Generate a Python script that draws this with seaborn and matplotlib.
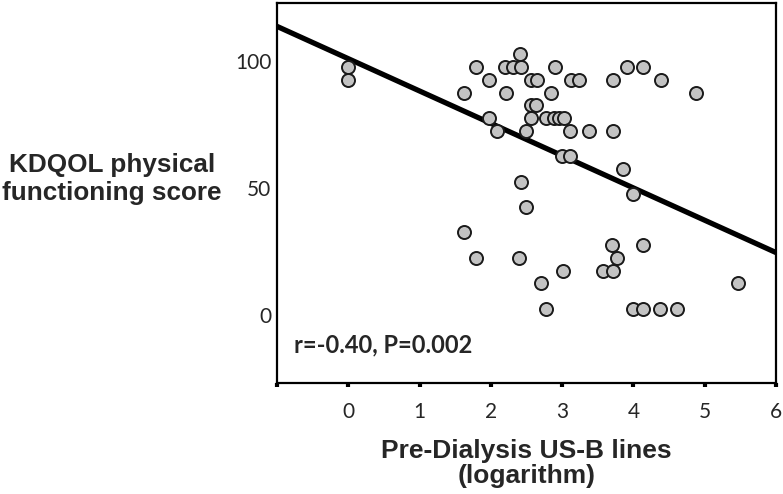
import numpy as np
import pandas as pd
import matplotlib
matplotlib.use("Agg")
from matplotlib import pyplot as plt
import seaborn as sns

# values
us_b_log = [0.00, 0.00, 1.63, 1.79, 1.98, 2.21, 2.20, 2.31, 2.42, 2.41,
            2.57, 2.65, 2.90, 2.84, 3.12, 3.23, 3.71, 3.91, 4.14, 4.38,
            4.88, 1.98, 2.08, 2.49, 2.57, 2.64, 2.57, 2.78, 2.88, 2.95,
            3.03, 3.11, 3.37, 3.71, 3.00, 3.11, 3.85, 4.00, 2.42, 2.49,
            1.63, 1.79, 2.40, 3.70, 3.77, 3.58, 3.72, 4.14, 3.01, 2.71,
            2.78, 3.99, 4.14, 4.37, 4.61, 5.46]
kdqol_pf = [97.5, 92.5, 87.5, 97.5, 92.5, 87.5, 97.5, 97.5, 97.5, 102.5,
            92.5, 92.5, 97.5, 87.5, 92.5, 92.5, 92.5, 97.5, 97.5, 92.5,
            87.5, 77.5, 72.5, 72.5, 82.5, 82.5, 77.5, 77.5, 77.5, 77.5,
            77.5, 72.5, 72.5, 72.5, 62.5, 62.5, 57.5, 47.5, 52.5, 42.5,
            32.5, 22.5, 22.5, 27.5, 22.5, 17.5, 17.5, 27.5, 17.5, 12.5,
            2.5, 2.5, 2.5, 2.5, 2.5, 12.5]
x_ticks = [-1, 0, 1, 2, 3, 4, 5, 6]
x_tick_labels = ["", "0", "1", "2", "3", "4", "5", "6"]
y_ticks = [0, 50, 100]
annot_text = "r=-0.40, P=0.002"

df = pd.DataFrame({"x": us_b_log, "y": kdqol_pf})

sns.set_theme(style="white")
plt.rcParams["font.family"] = ["Lato", "DejaVu Sans"]

fig = plt.figure(figsize=(7.83, 4.94), dpi=100)
ax = fig.add_axes([277 / 783, 1 - 383 / 494, 499 / 783, 380 / 494])
ax.set_xlim(-1, 6)
ax.set_ylim(-26.7, 122.7)

sns.regplot(data=df, x="x", y="y", ax=ax, ci=None, truncate=False,
            scatter_kws={"s": 88, "color": "#c3c3c3", "edgecolor": "#1a1a1a",
                         "linewidths": 1.4, "alpha": 1, "zorder": 3},
            line_kws={"color": "black", "lw": 3.8, "zorder": 2})
ax.set_xlim(-1, 6)
ax.set_ylim(-26.7, 122.7)

for s in ax.spines.values():
    s.set_color("black")
    s.set_linewidth(1.6)
    s.set_visible(True)
    s.set_zorder(5)

ax.set_xticks(x_ticks)
ax.set_xticklabels(x_tick_labels)
ax.set_yticks(y_ticks)
ax.tick_params(axis="x", direction="out", length=3, width=3, color="black",
               labelsize=15, pad=11, bottom=True)
ax.tick_params(axis="y", length=0, labelsize=15, pad=4)

ax.set_xlabel("Pre-Dialysis US-B lines\n(logarithm)", family="Liberation Sans",
              fontweight="bold", fontsize=19, labelpad=12, linespacing=1.05)
ax.set_ylabel("")
fig.text(112 / 783, 1 - 179 / 494, "KDQOL physical\nfunctioning score",
         family="Liberation Sans", fontweight="bold", fontsize=18.8,
         ha="center", va="center", linespacing=1.25)

ax.text(0.035, 0.1, annot_text, transform=ax.transAxes, fontsize=17,
        fontweight="bold", ha="left", va="center")

plt.savefig("out.png", dpi=100)
